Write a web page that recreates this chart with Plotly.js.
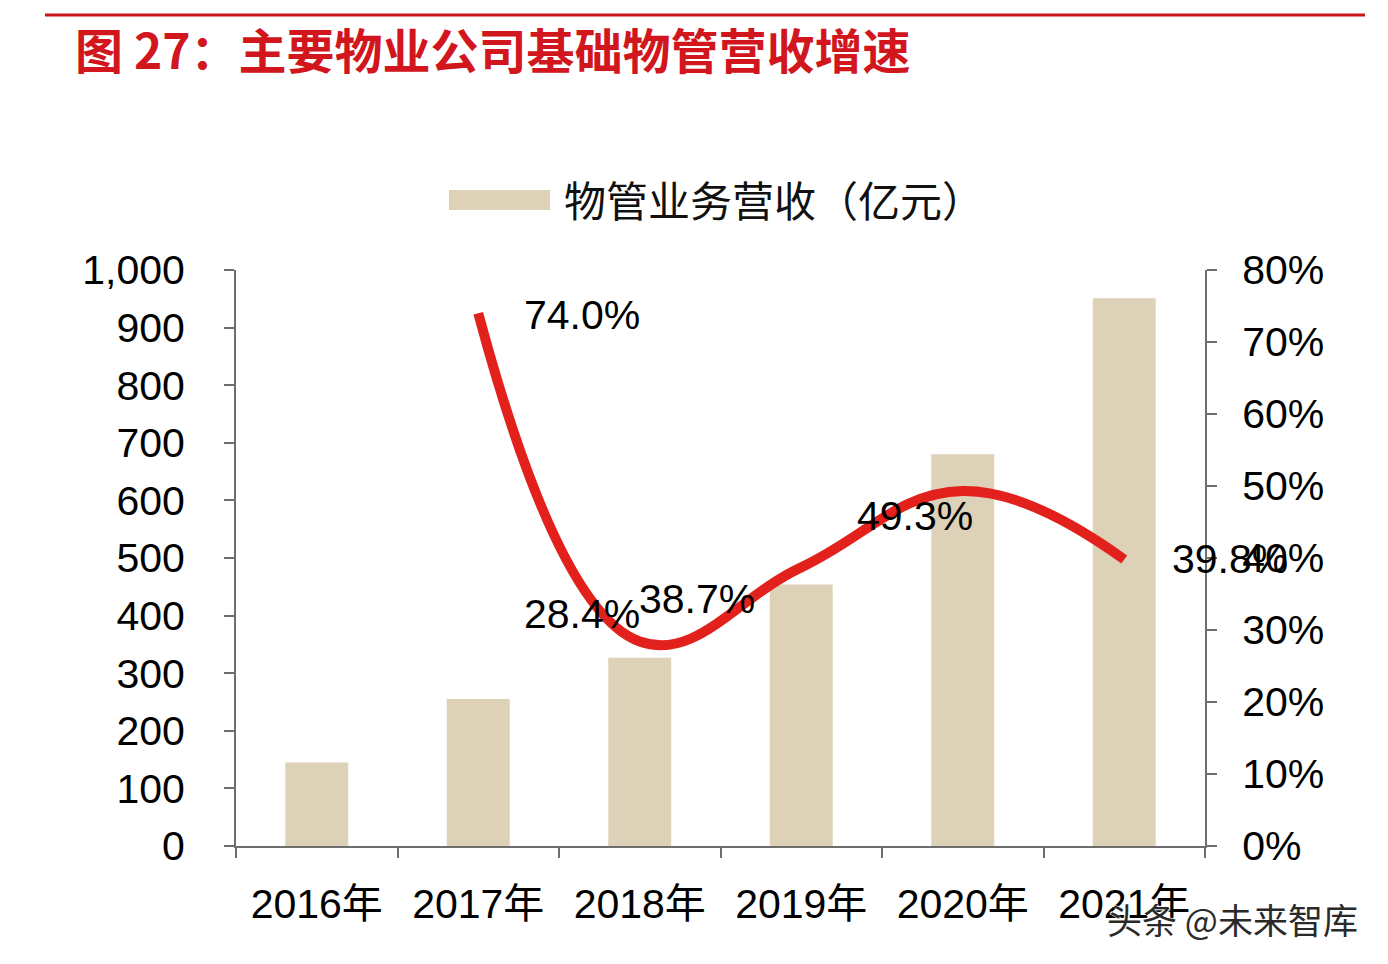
<!DOCTYPE html>
<html>
<head>
<meta charset="utf-8">
<script src="https://cdn.plot.ly/plotly-3.0.1.min.js"></script>
<style>
  html, body { margin: 0; padding: 0; background: #ffffff; }
  #chart { width: 1388px; height: 964px; }
</style>
</head>
<body>
<div id="chart"></div>
<script>
// ---- data ----
const years = ['2016年', '2017年', '2018年', '2019年', '2020年', '2021年'];
const revenue = [145, 255, 327, 454, 680, 951];           // 物管业务营收（亿元）
const growth = [null, 74.0, 28.4, 38.7, 49.3, 39.8];      // 增速 %
const barName = '物管业务营收（亿元）';
const chartTitle = '图 27：主要物业公司基础物管营收增速';
const watermark = '头条 @未来智库';

// ---- styles / label placement (pixels) ----
const FONT = 'Liberation Sans, Arial, "Noto Sans CJK SC", sans-serif';
const CJK = '"Noto Sans CJK SC", "Liberation Sans", sans-serif';
const labelShift = [null, [104, -2], [-58, 28], [-104, -32], [-48, -25], [106, 0]];

const bars = {
  type: 'bar', x: years, y: revenue, name: barName,
  marker: { color: '#ddd1b8' }, width: 0.39, hoverinfo: 'skip', showlegend: false
};
const line = {
  type: 'scatter', mode: 'lines', x: years, y: growth, yaxis: 'y2',
  line: { color: '#e3211c', width: 10, shape: 'spline', smoothing: 1.2 },
  connectgaps: false, hoverinfo: 'skip', showlegend: false
};

const annotations = [];
growth.forEach((v, i) => {
  if (v === null) return;
  annotations.push({
    x: years[i], y: v, xref: 'x', yref: 'y2', showarrow: false,
    text: v.toFixed(1) + '%', xanchor: 'center', yanchor: 'middle',
    xshift: labelShift[i][0], yshift: labelShift[i][1],
    font: { family: FONT, size: 41, color: '#000000' }
  });
});
// legend text
annotations.push({
  xref: 'paper', yref: 'paper', x: 0.3364, y: 1.1233, showarrow: false,
  xanchor: 'left', yanchor: 'middle', text: barName,
  font: { family: CJK, size: 42, color: '#111111' }
});
// watermark
annotations.push({
  xref: 'paper', yref: 'paper', x: (1105 - 236) / 969, y: (846 - 918) / 576,
  showarrow: false, xanchor: 'left', yanchor: 'middle', text: watermark,
  font: { family: CJK, size: 35, color: '#2a2a2a', shadow: '1px 1px 1px #ffffff, -1px -1px 1px #ffffff' }
});

const layout = {
  width: 1388, height: 964,
  paper_bgcolor: '#ffffff', plot_bgcolor: '#ffffff',
  margin: { l: 236, r: 183, t: 270, b: 118 },
  showlegend: false,
  title: {
    text: chartTitle, xref: 'container', yref: 'container',
    x: 75 / 1388, xanchor: 'left', y: 1 - 52 / 964, yanchor: 'middle',
    font: { family: CJK, size: 48, color: '#d2161e', weight: 'bold' }
  },
  xaxis: {
    type: 'category', range: [-0.5, 5.5], tickson: 'boundaries', ticks: 'outside', ticklen: 10,
    tickwidth: 2, tickcolor: '#6e6e6e', showline: true, linecolor: '#6e6e6e', linewidth: 2,
    showgrid: false, zeroline: false, ticklabelstandoff: 21,
    tickfont: { family: FONT, size: 41, color: '#000000' }
  },
  yaxis: {
    range: [0, 1000], dtick: 100, tick0: 0, tickformat: ',d',
    ticks: 'outside', ticklen: 10, tickwidth: 2, tickcolor: '#6e6e6e',
    showline: true, linecolor: '#6e6e6e', linewidth: 2,
    showgrid: false, zeroline: false, ticklabelstandoff: 31,
    tickfont: { family: FONT, size: 41, color: '#000000' }
  },
  yaxis2: {
    range: [0, 80], dtick: 10, tick0: 0, ticksuffix: '%', overlaying: 'y', side: 'right',
    ticks: 'outside', ticklen: 10, tickwidth: 2, tickcolor: '#6e6e6e',
    showline: true, linecolor: '#6e6e6e', linewidth: 2,
    showgrid: false, zeroline: false, ticklabelstandoff: 17,
    tickfont: { family: FONT, size: 41, color: '#000000' }
  },
  shapes: [
    { type: 'line', xref: 'paper', yref: 'paper',
      x0: (45 - 236) / 969, x1: (1365 - 236) / 969, y0: (846 - 15) / 576, y1: (846 - 15) / 576,
      line: { color: '#c8141c', width: 3 } },
    { type: 'rect', xref: 'paper', yref: 'paper',
      x0: (449 - 236) / 969, x1: (550 - 236) / 969, y0: (846 - 210) / 576, y1: (846 - 190) / 576,
      fillcolor: '#ddd1b8', line: { width: 0 } }
  ],
  annotations: annotations
};

Plotly.newPlot('chart', [bars, line], layout, { displayModeBar: false, staticPlot: true });
</script>
</body>
</html>
